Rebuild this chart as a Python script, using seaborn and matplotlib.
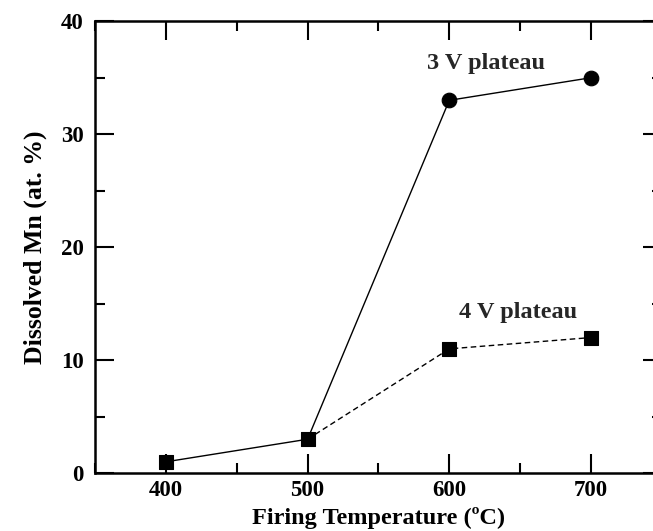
import matplotlib
matplotlib.use("Agg")
import matplotlib.pyplot as plt
from matplotlib.ticker import MultipleLocator
import seaborn as sns
import pandas as pd

# Data
temps = [400, 500, 600, 700]
mn_3v = [1, 3, 33, 35]
mn_4v = [1, 3, 11, 12]

sns.set_style("ticks")
plt.rcParams['font.family'] = ['Liberation Serif', 'DejaVu Serif']
plt.rcParams['font.weight'] = 'bold'

fig = plt.figure(figsize=(6.53, 5.31), dpi=100)
ax = fig.add_axes([0.1455, 0.109, 0.868, 0.851])

df3 = pd.DataFrame({'T': temps, 'Mn': mn_3v})
df4 = pd.DataFrame({'T': temps[1:], 'Mn': mn_4v[1:]})

# 3 V plateau: solid line through all points
sns.lineplot(data=df3, x='T', y='Mn', ax=ax, color='black', lw=1.0)
# 4 V plateau: dashed branch from 500 C
sns.lineplot(data=df4, x='T', y='Mn', ax=ax, color='black', lw=1.0, linestyle=(0, (4, 2.5)))

# markers
sns.scatterplot(x=temps[2:], y=mn_3v[2:], ax=ax, marker='o', s=110, color='black', edgecolor='black', zorder=5)
sns.scatterplot(x=temps, y=mn_4v, ax=ax, marker='s', s=95, color='black', edgecolor='black', zorder=5)

ax.set_xlim(350, 750)
ax.set_ylim(0, 40)
ax.xaxis.set_major_locator(MultipleLocator(100))
ax.xaxis.set_minor_locator(MultipleLocator(50))
ax.yaxis.set_major_locator(MultipleLocator(10))
ax.yaxis.set_minor_locator(MultipleLocator(5))
ax.tick_params(which='both', direction='in', top=True, right=True, width=1.5,
               color='black', labelcolor='black', labelsize=16.5)
ax.tick_params(axis='y', pad=8)
ax.tick_params(axis='x', pad=5)
ax.tick_params(which='major', length=14)
ax.tick_params(which='minor', length=7.5)
for sp in ax.spines.values():
    sp.set_linewidth(1.8)
    sp.set_color('black')

for lab in ax.get_xticklabels() + ax.get_yticklabels():
    lab.set_fontweight('bold')

ax.set_xlabel('Firing Temperature (\u00baC)', fontsize=17.5, fontweight='bold', labelpad=4, color='black')
ax.set_ylabel('Dissolved Mn (at. %)', fontsize=18.5, fontweight='bold', labelpad=10, color='black')

ax.text(584, 36.3, '3 V plateau', fontsize=17.5, fontweight='bold', va='center', ha='left')
ax.text(607, 14.2, '4 V plateau', fontsize=17.5, fontweight='bold', va='center', ha='left')

fig.savefig('out.png', dpi=100)
